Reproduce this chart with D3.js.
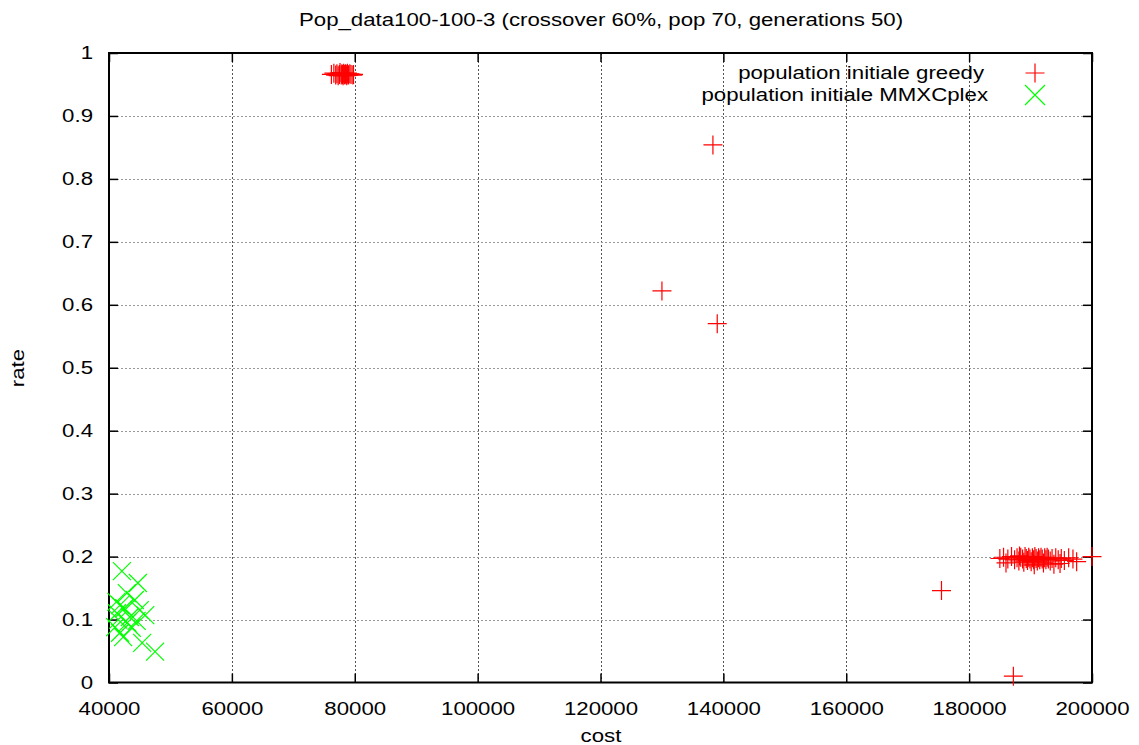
<!DOCTYPE html>
<html lang="en">
<head>
<meta charset="UTF-8">
<title>Pop_data100-100-3</title>
<script src="https://cdnjs.cloudflare.com/ajax/libs/d3/7.8.5/d3.min.js"></script>
<style>
    body { margin: 0; background: #fff; }
    svg { display: block; font-family: "Liberation Sans", Arial, sans-serif; }
    .grid line { stroke-dasharray: 2,2; shape-rendering: crispEdges; }
</style>
</head>
<body>
<svg width="1139" height="745"></svg>
<script>
    // greedy initial population [cost, rate]
    const greedyTop = [
        [76200, 0.966], [76600, 0.968], [76900, 0.965], [77100, 0.967], [77300, 0.964],
        [77500, 0.966], [77600, 0.969], [77800, 0.965], [77900, 0.967], [78000, 0.966],
        [78100, 0.964], [78200, 0.968], [78300, 0.966], [78400, 0.965], [78500, 0.967],
        [78600, 0.966], [78700, 0.964], [78800, 0.968], [78900, 0.966], [79000, 0.965],
        [79200, 0.967], [79400, 0.966], [79700, 0.965], [79800, 0.966]
    ];
    const greedyBottom = [
        [185000, 0.197], [185600, 0.199], [186300, 0.196], [186900, 0.200], [187400, 0.195],
        [187800, 0.198], [188100, 0.193], [188400, 0.199], [188700, 0.196], [188900, 0.191],
        [189100, 0.200], [189300, 0.197], [189500, 0.194], [189700, 0.199], [189900, 0.196],
        [190100, 0.192], [190300, 0.198], [190500, 0.195], [190700, 0.200], [190900, 0.197],
        [191100, 0.193], [191300, 0.198], [191500, 0.195], [191700, 0.199], [191900, 0.196],
        [192100, 0.190], [192300, 0.198], [192500, 0.195], [192700, 0.199], [192900, 0.196],
        [193200, 0.193], [193500, 0.197], [193800, 0.188], [194100, 0.198], [194500, 0.195],
        [195000, 0.197], [195500, 0.194], [196200, 0.198], [196900, 0.196], [197500, 0.192],
        [186000, 0.190], [190600, 0.187], [194800, 0.189], [188200, 0.201]
    ];
    const greedyOther = [
        [138300, 0.854], [130000, 0.622], [139000, 0.570],
        [175500, 0.146], [187200, 0.010], [200000, 0.200]
    ];
    // MMXCplex initial population [cost, rate]
    const cplexPoints = [
        [42100, 0.177], [44700, 0.158], [47500, 0.049], [45400, 0.063], [42900, 0.142],
        [41800, 0.123], [41300, 0.110], [41000, 0.088], [41800, 0.079], [43400, 0.104],
        [45000, 0.115], [45900, 0.107], [44200, 0.131], [42300, 0.072], [43700, 0.087],
        [41500, 0.100], [42500, 0.118], [43000, 0.095], [41200, 0.128], [44500, 0.098]
    ];

    const xTicks = [40000, 60000, 80000, 100000, 120000, 140000, 160000, 180000, 200000];
    const yTicks = [0, 0.1, 0.2, 0.3, 0.4, 0.5, 0.6, 0.7, 0.8, 0.9, 1];
    const yTickLabels = ["0", "0.1", "0.2", "0.3", "0.4", "0.5", "0.6", "0.7", "0.8", "0.9", "1"];
    const legendLabels = ["population initiale greedy", "population initiale MMXCplex"];

    const svg = d3.select("svg");
    const plotLeft = 109, plotRight = 1092, plotTop = 53, plotBottom = 682.5;

    // the reference text is stretched sideways
    const fontSize = 17.5, stretch = 1.27;

    const x = d3.scaleLinear().domain([40000, 200000]).range([plotLeft, plotRight]);
    const y = d3.scaleLinear().domain([0, 1]).range([plotBottom, plotTop]);

    // grid
    const grid = svg.append("g").attr("class", "grid");
    grid.selectAll("line.v")
        .data(xTicks.slice(1, -1))
        .enter().append("line")
        .attr("x1", d => Math.round(x(d)) + 0.5).attr("x2", d => Math.round(x(d)) + 0.5)
        .attr("y1", plotTop).attr("y2", plotBottom)
        .attr("stroke", "#555");
    grid.selectAll("line.h")
        .data(yTicks.slice(1, -1))
        .enter().append("line")
        .attr("y1", d => Math.round(y(d)) + 0.5).attr("y2", d => Math.round(y(d)) + 0.5)
        .attr("x1", plotLeft).attr("x2", plotRight)
        .attr("stroke", "#999");

    // axes, ticks pointing inwards
    const xAxis = svg.append("g")
        .attr("transform", `translate(0,${plotBottom})`)
        .call(d3.axisBottom(x).tickValues(xTicks).tickSize(-9).tickPadding(16).tickFormat(d3.format("d")));
    const xTop = svg.append("g")
        .attr("transform", `translate(0,${plotTop})`)
        .call(d3.axisTop(x).tickValues(xTicks).tickSize(-9).tickFormat(""));
    const yAxis = svg.append("g")
        .attr("transform", `translate(${plotLeft},0)`)
        .call(d3.axisLeft(y).tickValues(yTicks).tickSize(-9).tickPadding(16).tickFormat((d, i) => yTickLabels[i]));
    const yRight = svg.append("g")
        .attr("transform", `translate(${plotRight},0)`)
        .call(d3.axisRight(y).tickValues(yTicks).tickSize(-9).tickFormat(""));

    [xAxis, xTop, yAxis, yRight].forEach(g => {
        g.select(".domain").remove();
        g.selectAll(".tick line").attr("stroke", "#000").attr("stroke-width", 1.5);
        g.selectAll("text")
            .attr("fill", "#000")
            .style("font-size", fontSize + "px")
            .style("font-family", "Liberation Sans, Arial, sans-serif")
            .attr("transform", `scale(${stretch},1)`);
    });
    xAxis.selectAll("text").attr("dy", "0.95em");
    yAxis.selectAll("text").attr("x", -16 / stretch);

    // frame
    svg.append("rect")
        .attr("x", plotLeft).attr("y", plotTop)
        .attr("width", plotRight - plotLeft).attr("height", plotBottom - plotTop)
        .attr("fill", "none").attr("stroke", "#000").attr("stroke-width", 2);

    // markers
    const plusPath = "M-9.5,0H9.5M0,-9.5V9.5";
    const crossPath = "M-9,-9L9,9M-9,9L9,-9";

    const greedy = greedyTop.concat(greedyBottom, greedyOther);

    svg.append("g").selectAll("path")
        .data(greedy)
        .enter().append("path")
        .attr("d", plusPath)
        .attr("transform", d => `translate(${x(d[0])},${y(d[1])})`)
        .attr("stroke", "#ff0000").attr("stroke-width", 1.2).attr("fill", "none");

    svg.append("g").selectAll("path")
        .data(cplexPoints)
        .enter().append("path")
        .attr("d", crossPath)
        .attr("transform", d => `translate(${x(d[0])},${y(d[1])})`)
        .attr("stroke", "#00ff00").attr("stroke-width", 1.2).attr("fill", "none");

    function label(px, py, anchor, text, rotate) {
        return svg.append("text")
            .attr("transform", `translate(${px},${py})` + (rotate ? ` rotate(${rotate})` : "") + ` scale(${stretch},1)`)
            .attr("text-anchor", anchor)
            .style("font-size", fontSize + "px")
            .text(text);
    }

    // legend
    const legendRows = [
        { label: legendLabels[0], path: plusPath, color: "#ff0000", y: 73, right: 984 },
        { label: legendLabels[1], path: "M-10,-10L10,10M-10,10L10,-10", color: "#00ff00", y: 95, right: 988 }
    ];
    legendRows.forEach(r => {
        label(r.right, r.y + 6, "end", r.label);
        svg.append("path")
            .attr("d", r.path)
            .attr("transform", `translate(1035,${r.y})`)
            .attr("stroke", r.color).attr("stroke-width", 1.2).attr("fill", "none");
    });

    // titles
    label(601, 26, "middle", "Pop_data100-100-3 (crossover 60%, pop 70, generations 50)");
    label(601, 742, "middle", "cost");
    label(24, 368, "middle", "rate", -90);
</script>
</body>
</html>
